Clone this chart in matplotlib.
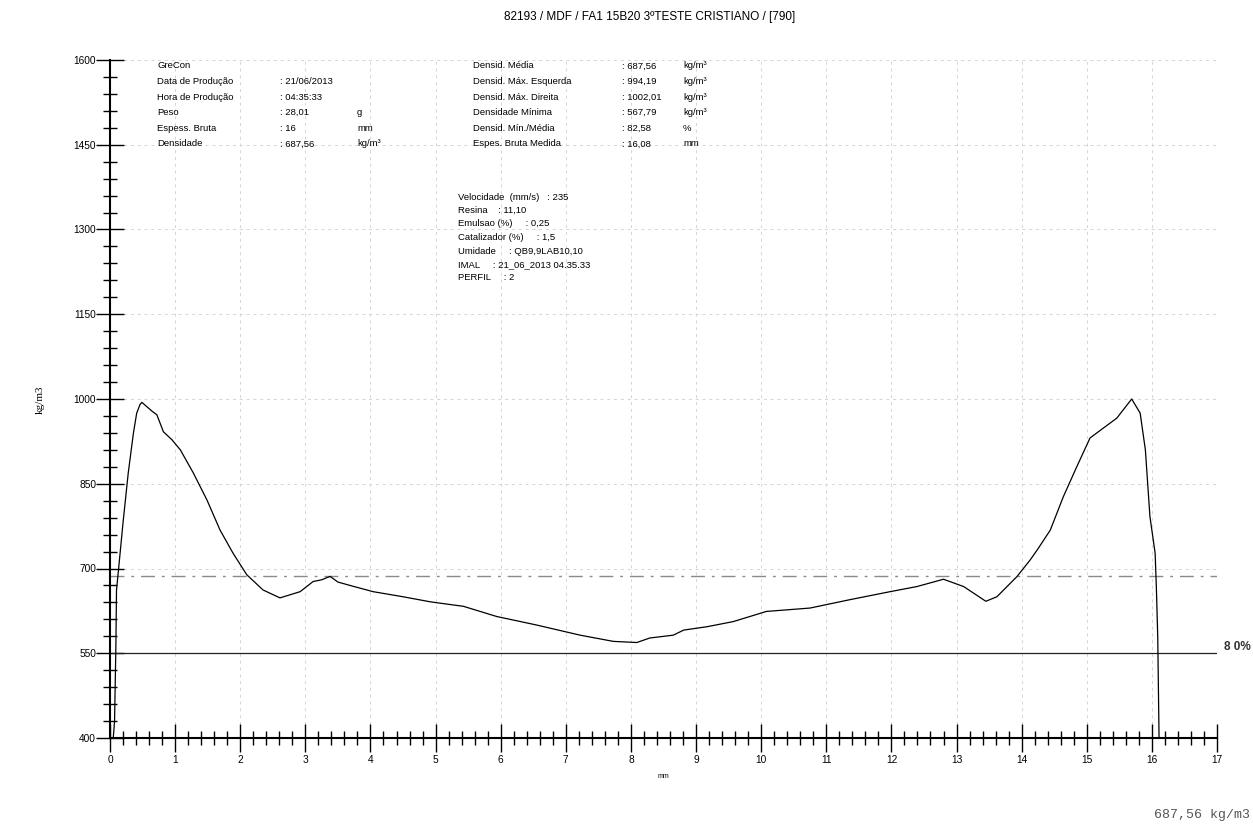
import matplotlib
matplotlib.use('Agg')
import matplotlib.pyplot as plt
import numpy as np

plt.rcParams['font.family'] = ['Liberation Sans', 'DejaVu Sans']

# density profile (mm, kg/m3)
pos_mm = [0.05, 0.07, 0.09, 0.10, 0.13, 0.20, 0.28, 0.36, 0.41, 0.46, 0.49, 0.55,
          0.65, 0.72, 0.82, 0.95, 1.08, 1.28, 1.49, 1.69, 1.89, 2.10, 2.35, 2.61,
          2.92, 3.12, 3.25, 3.38, 3.50, 3.75, 4.04, 4.50, 4.92, 5.43, 5.94, 6.55,
          7.22, 7.73, 8.09, 8.29, 8.65, 8.81, 9.17, 9.57, 10.08, 10.75, 11.37, 11.98,
          12.39, 12.80, 13.11, 13.45, 13.62, 13.93, 14.13, 14.24, 14.44, 14.64, 14.85,
          15.05, 15.26, 15.46, 15.69, 15.82, 15.90, 15.97, 16.05, 16.07, 16.09, 16.11]
density = [400, 430, 560, 662, 697, 781, 869, 940, 975, 990, 994, 988,
           978, 972, 942, 928, 910, 869, 821, 768, 727, 689, 662, 648,
           659, 677, 680, 686, 676, 668, 659, 650, 641, 633, 615, 600,
           582, 571, 569, 577, 582, 591, 597, 606, 624, 630, 645, 659,
           668, 681, 668, 642, 650, 686, 715, 733, 768, 827, 881,
           931, 949, 966, 1000, 975, 910, 792, 727, 662, 579, 400]

mean_density = 687.56
min_ratio = 0.80

y_major = [400, 550, 700, 850, 1000, 1150, 1300, 1450, 1600]
x_major = list(range(0, 18))

title = "82193 / MDF / FA1 15B20 3\u00baTESTE CRISTIANO / [790]"

info1_labels = ["GreCon", "Data de Produ\u00e7\u00e3o", "Hora de Produ\u00e7\u00e3o", "Peso",
                "Espess. Bruta", "Densidade"]
info1_values = ["", ": 21/06/2013", ": 04:35:33", ": 28,01", ": 16", ": 687,56"]
info1_units = ["", "", "", "g", "mm", "kg/m\u00b3"]

info2_labels = ["Densid. M\u00e9dia", "Densid. M\u00e1x. Esquerda", "Densid. M\u00e1x. Direita",
                "Densidade M\u00ednima", "Densid. M\u00edn./M\u00e9dia", "Espes. Bruta Medida"]
info2_values = [": 687,56", ": 994,19", ": 1002,01", ": 567,79", ": 82,58", ": 16,08"]
info2_units = ["kg/m\u00b3", "kg/m\u00b3", "kg/m\u00b3", "kg/m\u00b3", "%", "mm"]

info3_lines = ["Velocidade  (mm/s)   : 235", "Resina    : 11,10", "Emulsao (%)     : 0,25",
               "Catalizador (%)     : 1,5", "Umidade     : QB9,9LAB10,10",
               "IMAL     : 21_06_2013 04.35.33", "PERFIL     : 2"]

W, H = 1253, 832
fig = plt.figure(figsize=(W / 100, H / 100), dpi=100)
ax = fig.add_axes([110 / W, 1 - 738 / H, 1107 / W, 678 / H])

ax.plot(pos_mm, density, color='black', lw=0.9, zorder=3)
ax.axhline(mean_density, color='#8a8a8a', lw=1.0, ls=(0, (10, 5, 2, 5)), zorder=2)
ax.plot([0, 17], [mean_density * min_ratio] * 2, color='#222222', lw=0.9, zorder=2)
fig.text(1251 / W, 1 - 647 / H, "8 0%", fontsize=8.5, fontweight='bold',
         color='#333333', va='center', ha='right')

ax.set_xlim(0, 17)
ax.set_ylim(400, 1600)
ax.set_xticks(x_major)
ax.set_xticks(np.arange(0, 17.01, 0.2), minor=True)
ax.set_yticks(y_major)
ax.set_yticks(np.arange(400, 1601, 30), minor=True)
ax.tick_params(which='major', direction='inout', length=20, width=1.0, labelsize=7.3,
               color='black')
ax.tick_params(which='minor', direction='inout', length=10, width=1.0)
ax.tick_params(axis='y', which='major', pad=0)
ax.tick_params(axis='x', which='major', pad=2)
ax.grid(True, which='major', color='#d4d4d4', lw=0.7, ls=(0, (3, 4)))
for s in ['top', 'right']:
    ax.spines[s].set_visible(False)
for s in ['left', 'bottom']:
    ax.spines[s].set_linewidth(1.5)

ax.set_xlabel("mm", fontsize=5, labelpad=6)
fig.text(40 / W, 1 - 400 / H, "kg/m3", rotation=90, fontsize=8, family='Liberation Serif',
         ha='center', va='center')
fig.text(650 / W, 1 - 17 / H, title, fontsize=8.5, ha='center', va='center')

row = 15.6
fs = 6.8
for i in range(6):
    y = 1 - (66 + i * row) / H
    fig.text(157 / W, y, info1_labels[i], fontsize=fs, va='center')
    fig.text(280 / W, y, info1_values[i], fontsize=fs, va='center')
    fig.text(357 / W, y, info1_units[i], fontsize=fs, va='center')
    fig.text(473 / W, y, info2_labels[i], fontsize=fs, va='center')
    fig.text(622 / W, y, info2_values[i], fontsize=fs, va='center')
    fig.text(683 / W, y, info2_units[i], fontsize=fs, va='center')

for i, line in enumerate(info3_lines):
    fig.text(458 / W, 1 - (197 + i * 13.5) / H, line, fontsize=fs, va='center')

fig.text(1250 / W, 1 - 815 / H, "687,56 kg/m3", fontsize=9.5, family='Liberation Mono',
         color='#555555', ha='right', va='center')

fig.savefig('out.png', dpi=100)
